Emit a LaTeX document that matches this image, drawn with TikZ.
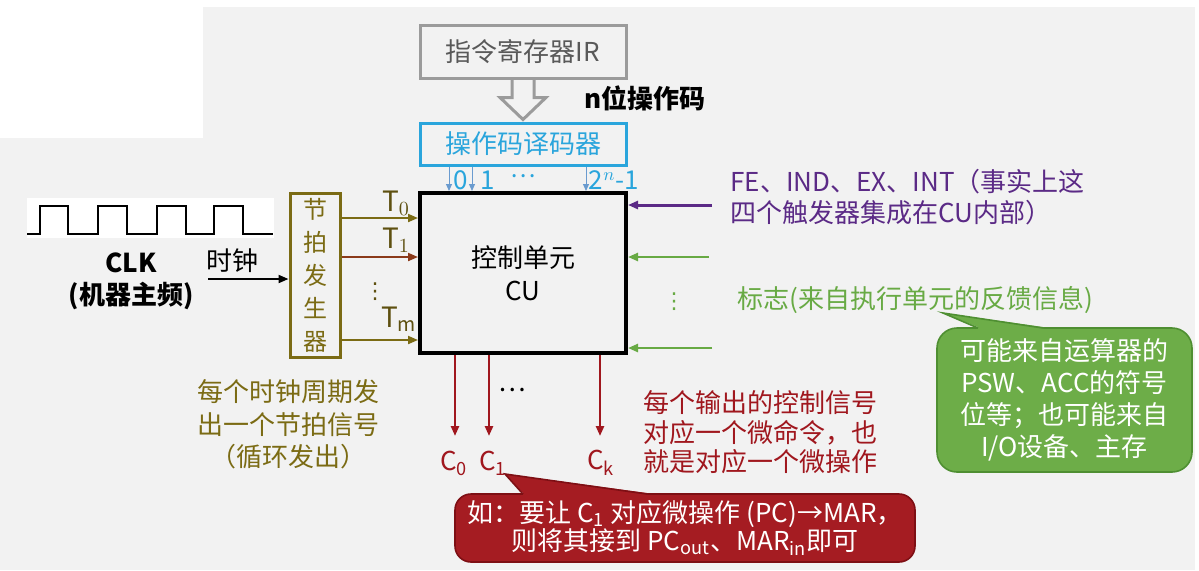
\documentclass[tikz,border=0pt]{standalone}
\usepackage{fontspec}
\setmainfont{Noto Sans CJK SC}
\newfontfamily\dejavu{DejaVu Sans}
\usetikzlibrary{arrows.meta,calc}
\definecolor{bg}{HTML}{F2F2F2}
\definecolor{irgray}{HTML}{9B9B9B}
\definecolor{irtext}{HTML}{595959}
\definecolor{cyanc}{HTML}{2AA5DC}
\definecolor{arrblue}{HTML}{6A9BCF}
\definecolor{olive}{HTML}{7B6B14}
\definecolor{oliveT}{HTML}{5E5010}
\definecolor{brownc}{HTML}{8B3A1A}
\definecolor{purplec}{HTML}{5B2A86}
\definecolor{greenc}{HTML}{68AA44}
\definecolor{greenfill}{HTML}{6DAD48}
\definecolor{greenb}{HTML}{4F8F32}
\definecolor{darkred}{HTML}{A0171E}
\definecolor{redfill}{HTML}{A51C22}
\definecolor{redb}{HTML}{7E0F14}
\begin{document}
\begin{tikzpicture}[x=0.5pt,y=-0.5pt,
  txt/.style={inner sep=0pt, font=\fontsize{13}{16}\selectfont},
  arr/.style={-{Triangle[length=5pt,width=4pt]}, line width=1pt},
  smallarr/.style={-{Triangle[length=3.5pt,width=3pt]}, line width=0.5pt, draw=arrblue},
  boxbase/.style={inner sep=0pt, font=\fontsize{13}{16}\selectfont},
  vdot/.style={inner sep=0pt, font=\dejavu\fontsize{11}{12}\selectfont}]
\useasboundingbox (0,0) rectangle (1199,570);
% background
\fill[white] (0,0) rectangle (1199,570);
\fill[bg] (0,7) rectangle (1195,570);
\fill[white] (0,7) rectangle (203,138);
\fill[white] (27,198) rectangle (274,238);

% IR and decoder
\node[boxbase, draw=irgray, line width=1.5pt, text=irtext, minimum width=103pt, minimum height=26.5pt] (ir) at (523,51.5) {指令寄存器IR};
\node[boxbase, draw=cyanc, line width=1.5pt, text=cyanc, minimum width=103pt, minimum height=21pt] (dec) at (523,144) {操作码译码器};
\draw[irgray, line width=1.5pt, line join=miter]
  ($(ir.south)+(-11,0)$) -- ($(ir.south)+(-11,18)$) -- ($(ir.south)+(-23,18)$)
  -- ($(dec.north)+(0,-2)$) -- ($(ir.south)+(23,18)$) -- ($(ir.south)+(11,18)$) -- ($(ir.south)+(11,0)$);
\node[txt, font=\fontsize{13}{16}\selectfont\bfseries] (nop) at (645,98) {n位操作码};

% CU
\node[boxbase, draw=black, line width=2pt, minimum width=103pt, minimum height=80pt, align=center,
  font=\fontsize{13}{16.5}\selectfont] (cu) at (523,273) {控制单元\\CU};

% decoder outputs
\coordinate (d0) at (449,0);
\coordinate (d1) at (472,0);
\coordinate (dn) at (586,0);
\draw[smallarr] (dec.south -| d0) -- (cu.north -| d0);
\draw[smallarr] (dec.south -| d1) -- (cu.north -| d1);
\draw[smallarr] (dec.south -| dn) -- (cu.north -| dn);
\node[txt, text=cyanc, font=\fontsize{13}{14}\selectfont] (l0) at (461,180) {0};
\node[txt, text=cyanc, font=\fontsize{13}{14}\selectfont] (l1) at (488,180) {1};
\node[txt, text=cyanc, font=\fontsize{12}{14}\selectfont] (ld) at (523,176) {…};
\node[txt, text=cyanc, font=\fontsize{13}{14}\selectfont] (ln) at (614,180) {2$^{n}$-1};

% clock
\draw[line width=1pt] (27,234) -- (40,234) -- (40,206) -- (68,206) -- (68,234) -- (98,234) -- (98,206) -- (127,206)
  -- (127,234) -- (157,234) -- (157,206) -- (186,206) -- (186,234) -- (214,234) -- (214,206) -- (243,206) -- (243,234) -- (273,234);
\node[txt, font=\fontsize{13}{16}\selectfont\bfseries] (clk) at (131,263) {CLK};
\node[txt, font=\fontsize{13}{16}\selectfont\bfseries] (clk2) at (131,296) {(机器主频)};
\node[txt] (sz) at (232,261) {时钟};

% generator
\node[boxbase, draw=olive, line width=1.5pt, text=olive, minimum width=25pt, minimum height=82pt, align=center,
  font=\fontsize{12}{16.5}\selectfont] (gen) at (315,275) {节\\拍\\发\\生\\器};
\coordinate (ck) at (208,279);
\draw[arr] (ck) -- (gen.west |- ck);
\coordinate (t0) at (0,218);
\coordinate (t1) at (0,257);
\coordinate (tm) at (0,340);
\draw[arr, olive] (gen.east |- t0) -- (cu.west |- t0);
\draw[arr, brownc] (gen.east |- t1) -- (cu.west |- t1);
\draw[arr, olive] (gen.east |- tm) -- (cu.west |- tm);
\node[inner sep=0pt, text=oliveT, font=\fontsize{14}{14}\selectfont] (lt0) at (396,203) {$\mathrm{T}_0$};
\node[inner sep=0pt, text=oliveT, font=\fontsize{14}{14}\selectfont] (lt1) at (396,240) {$\mathrm{T}_1$};
\node[vdot, text=oliveT] (ltd) at (375,292) {⋮};
\node[inner sep=0pt, text=oliveT, font=\fontsize{14}{14}\selectfont] (ltm) at (399,319) {$\mathrm{T}_\mathrm{m}$};
\node[txt, text=olive, align=center, font=\fontsize{13}{16.25}\selectfont] (olivetxt) at (288,424.5)
  {每个时钟周期发\\出一个节拍信号\\（循环发出）};

% right inputs
\coordinate (fe) at (712,205);
\coordinate (f1) at (709,257);
\coordinate (f2) at (712,348);
\draw[arr, purplec, line width=1.5pt] (fe) -- (cu.east |- fe);
\draw[arr, greenc, line width=1.2pt] (f1) -- (cu.east |- f1);
\draw[arr, greenc, line width=1.2pt] (f2) -- (cu.east |- f2);
\node[vdot, text=greenc] (gd) at (674,302) {⋮};
\node[txt, text=purplec, anchor=west, align=left, font=\fontsize{13}{15.5}\selectfont] (ptxt) at (730,197.5)
  {FE、IND、EX、INT（事实上这\\四个触发器集成在CU内部）};
\node[txt, text=greenc, anchor=west] (gtxt) at (737,300) {标志(来自执行单元的反馈信息)};

% green callout
\node[boxbase, fill=greenfill, draw=greenb, line width=0.8pt, rounded corners=10pt, text=white, align=center,
  minimum width=127.5pt, minimum height=72pt] (gcall) at (1064.5,400)
  {可能来自运算器的\\PSW、ACC的符号\\位等；也可能来自\\I/O设备、主存};
\coordinate (gtip) at (943,313);
\fill[greenfill] (gtip) -- (978,327) -- (978,331) -- (1043,331) -- (1043,327) -- cycle;
\draw[greenb, line width=0.8pt] (978,328) -- (gtip) -- (1043,328);

% outputs
\coordinate (c0) at (455,436);
\coordinate (c1) at (489,436);
\coordinate (ck2) at (600,436);
\draw[arr, darkred, line width=1.2pt] (cu.south -| c0) -- (c0);
\draw[arr, darkred, line width=1.2pt] (cu.south -| c1) -- (c1);
\draw[arr, darkred, line width=1.2pt] (cu.south -| ck2) -- (ck2);
\node[txt] (od) at (512,390) {…};
\node[txt, text=darkred] (lc0) at (454,463) {C\textsubscript{0}};
\node[txt, text=darkred] (lc1) at (493,463) {C\textsubscript{1}};
\node[txt, text=darkred] (lck) at (601,463) {C\textsubscript{k}};
\node[txt, text=darkred, align=left, font=\fontsize{13}{14.75}\selectfont] (rtxt) at (760,432.5)
  {每个输出的控制信号\\对应一个微命令，也\\就是对应一个微操作};

% red callout
\node[boxbase, fill=redfill, draw=redb, line width=0.8pt, rounded corners=8pt, text=white, align=center,
  font=\fontsize{13}{14}\selectfont, minimum width=230pt, minimum height=34pt] (rcall) at (685,528)
  {如：要让 C\textsubscript{1} 对应微操作 (PC)→MAR，\\则将其接到 PC\textsubscript{out}、MAR\textsubscript{in}即可};
\coordinate (rtip) at (505,474);
\fill[redfill] (rtip) -- (523,493) -- (523,497) -- (647,497) -- (647,493) -- cycle;
\draw[redb, line width=0.8pt] (523,494) -- (rtip) -- (647,494);
\end{tikzpicture}
\end{document}
